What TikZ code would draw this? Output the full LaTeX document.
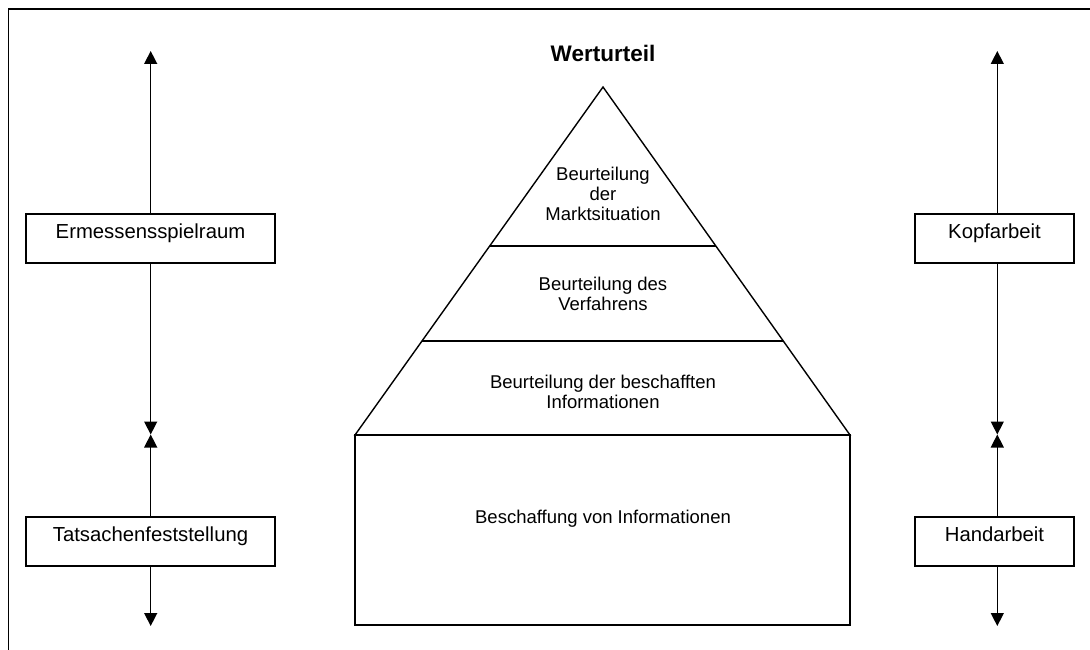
\documentclass[tikz,border=0pt]{standalone}
\usepackage{fontspec}
\setmainfont{Liberation Sans}
\usetikzlibrary{arrows.meta,calc}
\begin{document}
\begin{tikzpicture}[x=1pt,y=-1pt,
  ln/.style={line width=1.4pt},
  box/.style={draw,line width=1.5pt,minimum height=49pt,inner sep=0pt},
  boxtext/.style={inner sep=0pt,anchor=base,font=\fontsize{20.3pt}{23pt}\selectfont},
  pyrtext/.style={inner sep=0pt,anchor=north,align=center,font=\fontsize{18.5pt}{20pt}\selectfont},
  arr/.style={line width=1.4pt,-{Triangle[width=13pt,length=13pt]}}]
\useasboundingbox (0,0) rectangle (1090,650);
% frame
\draw[line width=1.6pt] (1090,9) -- (8.5,9) -- (8.5,650);
% title
\node[inner sep=0pt,anchor=base,font=\bfseries\fontsize{22.5pt}{25pt}\selectfont] (title) at (603,62) {Werturteil};
% pyramid
\coordinate (apex) at (603,87);
\coordinate (bl) at (355,435);
\coordinate (br) at (850,435);
\coordinate (rb) at (850,625);
\draw[ln] (apex) -- (bl) -- (br) -- cycle;
\draw[ln] ($(apex)!0.4569!(bl)$) -- ($(apex)!0.4569!(br)$);
\draw[ln] ($(apex)!0.7299!(bl)$) -- ($(apex)!0.7299!(br)$);
\draw[ln] (bl) rectangle (rb);
\node[pyrtext] (p1) at (603,166.5) {Beurteilung\\der\\Marktsituation};
\node[pyrtext] (p2) at (603,276.5) {Beurteilung des\\Verfahrens};
\node[pyrtext] (p3) at (603,374.5) {Beurteilung der beschafften\\Informationen};
\node[boxtext,font=\fontsize{18.5pt}{20pt}\selectfont] (p4) at (603,523) {Beschaffung von Informationen};
% left boxes
\node[box,minimum width=249pt] (erm) at (150.5,238.5) {};
\node[boxtext] (ermt) at (150.5,238) {Ermessensspielraum};
\node[box,minimum width=249pt] (tat) at (150.5,541.5) {};
\node[boxtext] (tatt) at (150.5,541) {Tatsachenfeststellung};
% right boxes
\node[box,minimum width=159pt] (kopf) at (994.5,238.5) {};
\node[boxtext] (kopft) at (994.5,238) {Kopfarbeit};
\node[box,minimum width=159pt] (hand) at (994.5,541.5) {};
\node[boxtext] (handt) at (994.5,541) {Handarbeit};
% arrow ends
\coordinate (lt) at (150.7,51);
\coordinate (lm) at (150.7,434.5);
\coordinate (lb) at (150.7,626);
\coordinate (rt) at (997.3,51);
\coordinate (rm) at (997.3,434.5);
\coordinate (rbt) at (997.3,626);
\draw[arr] (erm.north -| lt) -- (lt);
\draw[arr] (erm.south -| lm) -- (lm);
\draw[arr] (tat.north -| lm) -- (lm);
\draw[arr] (tat.south -| lb) -- (lb);
\draw[arr] (kopf.north -| rt) -- (rt);
\draw[arr] (kopf.south -| rm) -- (rm);
\draw[arr] (hand.north -| rm) -- (rm);
\draw[arr] (hand.south -| rbt) -- (rbt);
\end{tikzpicture}
\end{document}
